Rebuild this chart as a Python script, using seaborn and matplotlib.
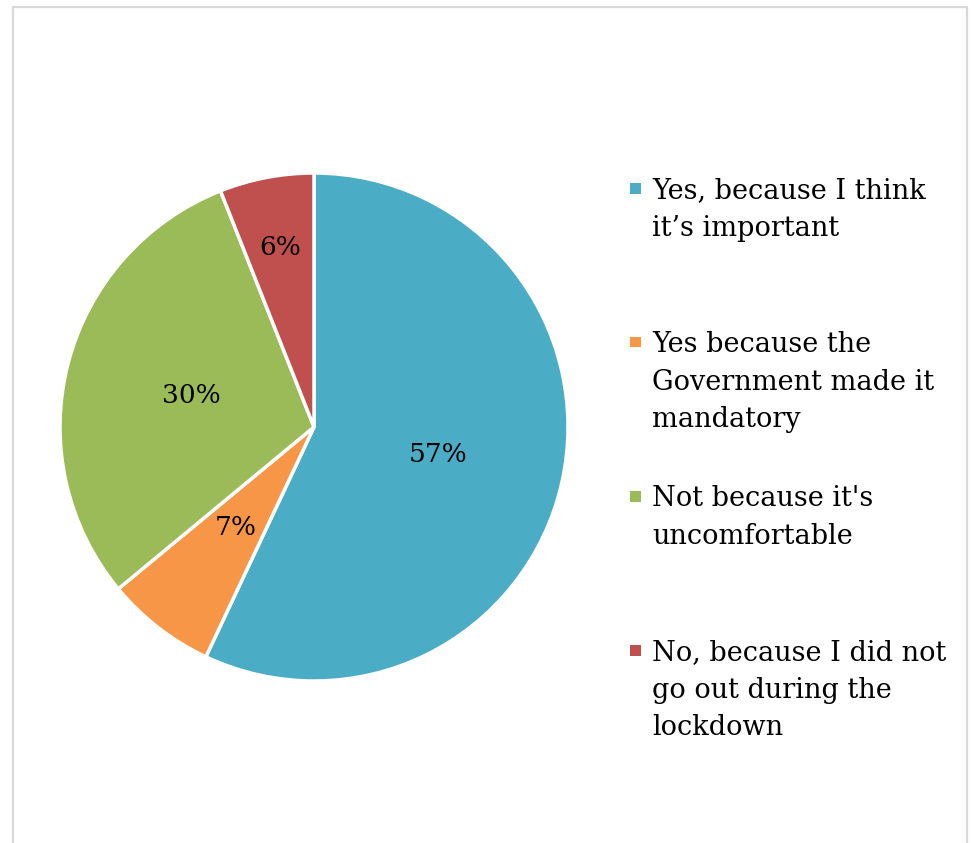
import matplotlib
matplotlib.use("Agg")
import matplotlib.pyplot as plt
import seaborn as sns
import numpy as np
from matplotlib.patches import Rectangle

categories = [
    "Yes, because I think\nit\u2019s important",
    "Yes because the\nGovernment made it\nmandatory",
    "Not because it's\nuncomfortable",
    "No, because I did not\ngo out during the\nlockdown",
]
values = [57, 7, 30, 6]
pct_labels = ["57%", "7%", "30%", "6%"]
colors_hex = ["#4BACC6", "#F79646", "#9BBB59", "#C0504D"]

sns.set_theme(style="white")
plt.rcParams['font.family'] = ['DejaVu Serif', 'Liberation Serif']
palette = sns.color_palette(colors_hex)

W, H = 971, 843
fig = plt.figure(figsize=(W / 100, H / 100), dpi=100)
fig.patch.set_facecolor("white")

cx, cy, R = 314, 427, 254
ax = fig.add_axes([(cx - R) / W, (H - cy - R) / H, 2 * R / W, 2 * R / H])
wedges, _ = ax.pie(values, colors=palette, startangle=90, counterclock=False,
                   radius=1, wedgeprops=dict(edgecolor="white", linewidth=2.5))
ax.set_xlim(-1, 1)
ax.set_ylim(-1, 1)
ax.set_aspect("equal")
ax.axis("off")

dists = [0.5, 0.5, 0.5, 0.72]
for w, lab, d in zip(wedges, pct_labels, dists):
    ang = np.deg2rad((w.theta1 + w.theta2) / 2)
    ax.text(d * np.cos(ang), d * np.sin(ang), lab, ha="center", va="center",
            fontsize=19, color="#000000")

# legend (manual, evenly spaced like the original)
for i, (lab, col) in enumerate(zip(categories, palette)):
    base = 198 + i * 154
    fig.patches.append(Rectangle((630 / W, 1 - 193.5 / H - i * 154 / H), 11 / W, 11 / H,
                                 transform=fig.transFigure, facecolor=col,
                                 edgecolor="none"))
    for j, line in enumerate(lab.split("\n")):
        fig.text(652 / W, 1 - (base + j * 37.5) / H, line, ha="left", va="baseline",
                 fontsize=19.5, color="#000000")

# outer frame
fig.patches.append(Rectangle((13 / W, -0.05), (967 - 13) / W, 1 - 7 / H + 0.05,
                             transform=fig.transFigure, facecolor="none",
                             edgecolor="#d9d9d9", linewidth=1.6))

fig.savefig("out.png", dpi=100, facecolor="white")
